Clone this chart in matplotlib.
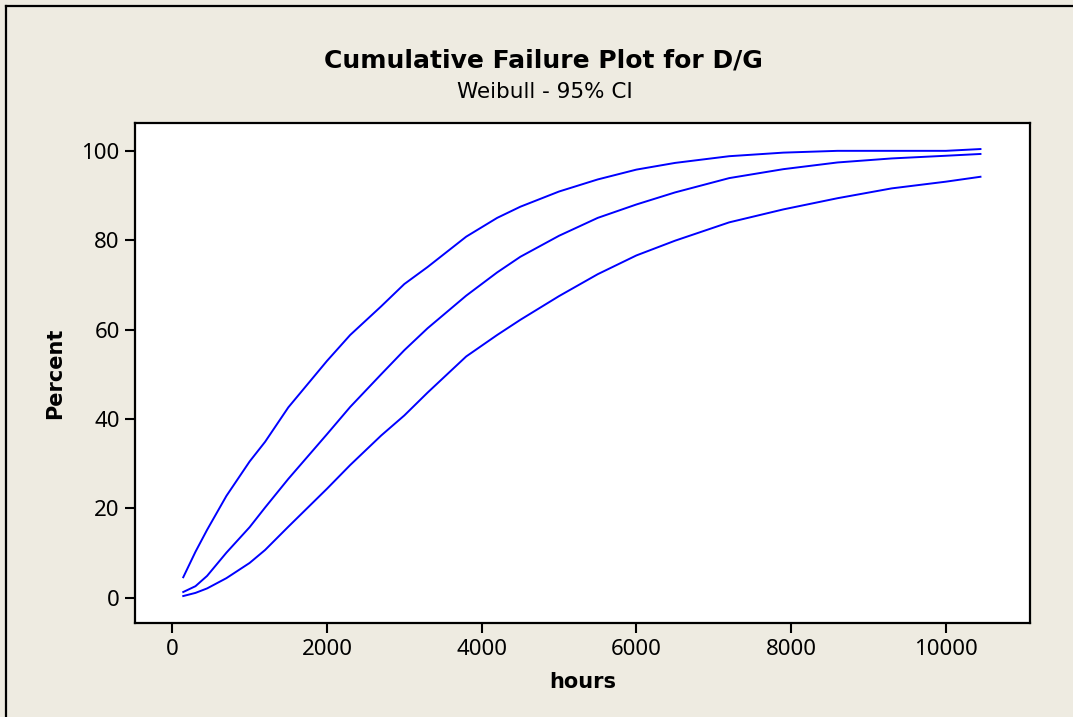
import matplotlib
matplotlib.use("Agg")
import matplotlib.pyplot as plt
from matplotlib.lines import Line2D

# values
hours = [142, 300, 450, 700, 1000, 1200, 1500, 2000, 2300, 2700, 3000, 3300,
         3800, 4200, 4500, 5000, 5500, 6000, 6500, 7200, 7900, 8600, 9300,
         10000, 10448]
upper_ci = [4.6, 10.3, 15.2, 22.8, 30.5, 34.9, 42.6, 53.0, 58.8, 65.2, 70.2, 74.0,
            80.8, 85.0, 87.5, 90.9, 93.6, 95.8, 97.3, 98.8, 99.6, 100.0, 100.0,
            100.0, 100.4]
fitted = [1.3, 2.6, 4.9, 10.1, 15.8, 20.2, 26.6, 36.6, 42.7, 50.0, 55.4, 60.3,
          67.6, 72.8, 76.3, 81.0, 85.0, 88.0, 90.7, 93.9, 95.9, 97.4, 98.3,
          98.9, 99.3]
lower_ci = [0.4, 1.1, 2.1, 4.4, 7.8, 10.7, 15.9, 24.4, 29.7, 36.3, 40.8, 45.9,
            54.0, 58.8, 62.2, 67.5, 72.4, 76.6, 79.9, 84.0, 86.9, 89.4, 91.6,
            93.1, 94.2]
x_ticks = [0, 2000, 4000, 6000, 8000, 10000]
y_ticks = [0, 20, 40, 60, 80, 100]

bg = "#EEEBE1"
plt.rcParams['font.family'] = ['Noto Sans', 'DejaVu Sans']

fig = plt.figure(figsize=(10.73, 7.17), dpi=100, facecolor=bg)
ax = fig.add_axes([0.1258, 0.1307, 0.8341, 0.6982])
ax.set_facecolor("white")

for series in (upper_ci, fitted, lower_ci):
    ax.plot(hours, series, color="#0000FF", lw=1.4)

ax.set_xlim(-482, 11088)
ax.set_ylim(-5.7, 106.3)
ax.set_xticks(x_ticks)
ax.set_yticks(y_ticks)
ax.tick_params(axis="both", direction="out", length=7, width=1.5,
               labelsize=16, color="black")
ax.tick_params(axis="y", pad=4)
ax.tick_params(axis="x", pad=4)
for s in ax.spines.values():
    s.set_linewidth(1.6)

# bold texts in DejaVu (Noto Sans has no bold face here)
ax.set_xlabel("hours", fontsize=15, fontweight="bold", family="DejaVu Sans",
              labelpad=9)
ax.set_ylabel("Percent", fontsize=15, fontweight="bold", family="DejaVu Sans",
              labelpad=12)

fig.text(0.506, 0.916, "Cumulative Failure Plot for D/G", ha="center",
         va="center", fontsize=18, fontweight="bold", family="DejaVu Sans")
fig.text(0.508, 0.872, "Weibull - 95% CI", ha="center", va="center",
         fontsize=15.5, family="DejaVu Sans")

# outer frame (top and left edges visible)
fig.add_artist(Line2D([0.0056, 0.0056], [0.0, 0.991], transform=fig.transFigure,
                      color="black", lw=1.6))
fig.add_artist(Line2D([0.0056, 1.0], [0.991, 0.991], transform=fig.transFigure,
                      color="black", lw=1.6))

fig.savefig("out.png", dpi=100, facecolor=bg)
